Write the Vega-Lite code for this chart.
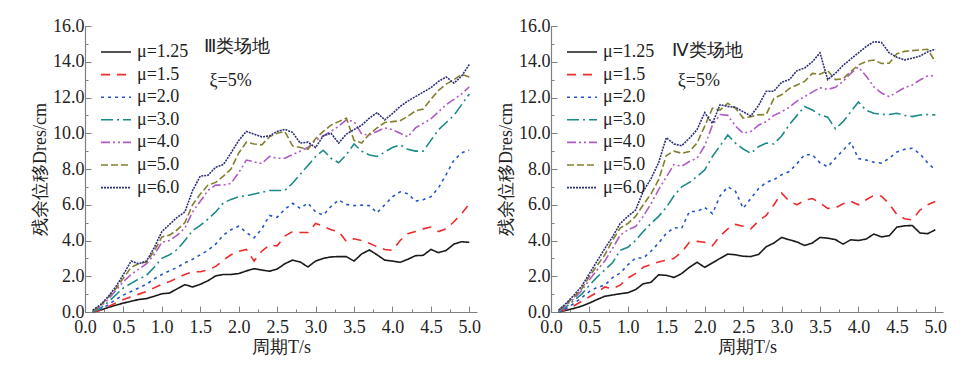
{
"$schema": "https://vega.github.io/schema/vega-lite/v6.json",
"padding": {"left": 31, "top": 17, "right": 5, "bottom": 5},
"config": {
  "view": {"stroke": null},
  "font": "Liberation Serif",
  "concat": {"spacing": 16},
  "axis": {"grid": false, "domainColor": "#808080", "domainWidth": 1.2, "tickColor": "#808080", "tickWidth": 1, "labelColor": "#222222", "titleColor": "#222222", "labelFont": "Liberation Serif", "labelFontSize": 18, "titleFont": "Liberation Serif", "titleFontSize": 18, "titleFontWeight": "normal", "labelOverlap": false, "labelFlush": false},
  "legend": {"orient": "none", "legendX": 15, "legendY": 15, "padding": 0, "title": null, "symbolType": "stroke", "symbolSize": 900, "labelFont": "Liberation Serif", "labelFontSize": 18, "labelColor": "#222222", "clipHeight": 22, "rowPadding": 0.6, "labelOffset": 5, "symbolOpacity": 1}
},
"datasets": {
"III": [
{"m":"1.25","T":0.1,"D":0},{"m":"1.25","T":0.2,"D":0.1},{"m":"1.25","T":0.3,"D":0.25},{"m":"1.25","T":0.4,"D":0.38},{"m":"1.25","T":0.5,"D":0.5},{"m":"1.25","T":0.6,"D":0.6},{"m":"1.25","T":0.7,"D":0.7},{"m":"1.25","T":0.8,"D":0.75},{"m":"1.25","T":0.9,"D":0.88},{"m":"1.25","T":1.0,"D":1.02},
{"m":"1.25","T":1.1,"D":1.06},{"m":"1.25","T":1.2,"D":1.3},{"m":"1.25","T":1.3,"D":1.53},{"m":"1.25","T":1.4,"D":1.4},{"m":"1.25","T":1.5,"D":1.55},{"m":"1.25","T":1.6,"D":1.75},{"m":"1.25","T":1.7,"D":2.02},{"m":"1.25","T":1.8,"D":2.1},{"m":"1.25","T":1.9,"D":2.1},{"m":"1.25","T":2.0,"D":2.15},
{"m":"1.25","T":2.1,"D":2.3},{"m":"1.25","T":2.2,"D":2.42},{"m":"1.25","T":2.3,"D":2.35},{"m":"1.25","T":2.4,"D":2.28},{"m":"1.25","T":2.5,"D":2.4},{"m":"1.25","T":2.6,"D":2.7},{"m":"1.25","T":2.7,"D":2.9},{"m":"1.25","T":2.8,"D":2.8},{"m":"1.25","T":2.9,"D":2.52},{"m":"1.25","T":3.0,"D":2.85},
{"m":"1.25","T":3.1,"D":3.0},{"m":"1.25","T":3.2,"D":3.08},{"m":"1.25","T":3.3,"D":3.1},{"m":"1.25","T":3.4,"D":3.1},{"m":"1.25","T":3.5,"D":2.85},{"m":"1.25","T":3.6,"D":3.25},{"m":"1.25","T":3.7,"D":3.47},{"m":"1.25","T":3.8,"D":3.2},{"m":"1.25","T":3.9,"D":2.9},{"m":"1.25","T":4.0,"D":2.85},
{"m":"1.25","T":4.1,"D":2.78},{"m":"1.25","T":4.2,"D":2.95},{"m":"1.25","T":4.3,"D":3.15},{"m":"1.25","T":4.4,"D":3.17},{"m":"1.25","T":4.5,"D":3.5},{"m":"1.25","T":4.6,"D":3.32},{"m":"1.25","T":4.7,"D":3.45},{"m":"1.25","T":4.8,"D":3.8},{"m":"1.25","T":4.9,"D":3.93},{"m":"1.25","T":5.0,"D":3.9},
{"m":"1.5","T":0.1,"D":0},{"m":"1.5","T":0.2,"D":0.1},{"m":"1.5","T":0.3,"D":0.3},{"m":"1.5","T":0.4,"D":0.5},{"m":"1.5","T":0.5,"D":0.7},{"m":"1.5","T":0.6,"D":0.85},{"m":"1.5","T":0.7,"D":1.0},{"m":"1.5","T":0.8,"D":1.15},{"m":"1.5","T":0.9,"D":1.35},{"m":"1.5","T":1.0,"D":1.55},
{"m":"1.5","T":1.1,"D":1.7},{"m":"1.5","T":1.2,"D":1.9},{"m":"1.5","T":1.3,"D":2.1},{"m":"1.5","T":1.4,"D":2.25},{"m":"1.5","T":1.5,"D":2.25},{"m":"1.5","T":1.6,"D":2.35},{"m":"1.5","T":1.7,"D":2.55},{"m":"1.5","T":1.8,"D":2.9},{"m":"1.5","T":1.9,"D":3.2},{"m":"1.5","T":2.0,"D":3.4},
{"m":"1.5","T":2.1,"D":3.5},{"m":"1.5","T":2.2,"D":2.85},{"m":"1.5","T":2.3,"D":3.4},{"m":"1.5","T":2.4,"D":3.75},{"m":"1.5","T":2.5,"D":3.7},{"m":"1.5","T":2.6,"D":4.25},{"m":"1.5","T":2.7,"D":4.5},{"m":"1.5","T":2.8,"D":4.45},{"m":"1.5","T":2.9,"D":4.45},{"m":"1.5","T":3.0,"D":4.95},
{"m":"1.5","T":3.1,"D":4.8},{"m":"1.5","T":3.2,"D":4.6},{"m":"1.5","T":3.3,"D":4.5},{"m":"1.5","T":3.4,"D":3.95},{"m":"1.5","T":3.5,"D":4.1},{"m":"1.5","T":3.6,"D":4.0},{"m":"1.5","T":3.7,"D":3.84},{"m":"1.5","T":3.8,"D":3.65},{"m":"1.5","T":3.9,"D":3.5},{"m":"1.5","T":4.0,"D":3.45},
{"m":"1.5","T":4.1,"D":4.0},{"m":"1.5","T":4.2,"D":4.38},{"m":"1.5","T":4.3,"D":4.5},{"m":"1.5","T":4.4,"D":4.65},{"m":"1.5","T":4.5,"D":4.75},{"m":"1.5","T":4.6,"D":4.5},{"m":"1.5","T":4.7,"D":4.65},{"m":"1.5","T":4.8,"D":5.05},{"m":"1.5","T":4.9,"D":5.5},{"m":"1.5","T":5.0,"D":6.05},
{"m":"2.0","T":0.1,"D":0},{"m":"2.0","T":0.2,"D":0.15},{"m":"2.0","T":0.3,"D":0.4},{"m":"2.0","T":0.4,"D":0.7},{"m":"2.0","T":0.5,"D":0.95},{"m":"2.0","T":0.6,"D":1.15},{"m":"2.0","T":0.7,"D":1.35},{"m":"2.0","T":0.8,"D":1.55},{"m":"2.0","T":0.9,"D":1.85},{"m":"2.0","T":1.0,"D":2.1},
{"m":"2.0","T":1.1,"D":2.3},{"m":"2.0","T":1.2,"D":2.5},{"m":"2.0","T":1.3,"D":2.75},{"m":"2.0","T":1.4,"D":2.95},{"m":"2.0","T":1.5,"D":3.2},{"m":"2.0","T":1.6,"D":3.45},{"m":"2.0","T":1.7,"D":3.8},{"m":"2.0","T":1.8,"D":4.3},{"m":"2.0","T":1.9,"D":4.6},{"m":"2.0","T":2.0,"D":4.8},
{"m":"2.0","T":2.1,"D":4.45},{"m":"2.0","T":2.2,"D":4.15},{"m":"2.0","T":2.3,"D":4.65},{"m":"2.0","T":2.4,"D":5.4},{"m":"2.0","T":2.5,"D":5.3},{"m":"2.0","T":2.6,"D":5.75},{"m":"2.0","T":2.7,"D":6.08},{"m":"2.0","T":2.8,"D":5.8},{"m":"2.0","T":2.9,"D":6.1},{"m":"2.0","T":3.0,"D":5.6},
{"m":"2.0","T":3.1,"D":5.42},{"m":"2.0","T":3.2,"D":5.9},{"m":"2.0","T":3.3,"D":6.27},{"m":"2.0","T":3.4,"D":6.02},{"m":"2.0","T":3.5,"D":5.95},{"m":"2.0","T":3.6,"D":5.98},{"m":"2.0","T":3.7,"D":5.95},{"m":"2.0","T":3.8,"D":5.55},{"m":"2.0","T":3.9,"D":6.0},{"m":"2.0","T":4.0,"D":6.45},
{"m":"2.0","T":4.1,"D":6.72},{"m":"2.0","T":4.2,"D":6.62},{"m":"2.0","T":4.3,"D":6.2},{"m":"2.0","T":4.4,"D":6.28},{"m":"2.0","T":4.5,"D":6.45},{"m":"2.0","T":4.6,"D":6.95},{"m":"2.0","T":4.7,"D":7.7},{"m":"2.0","T":4.8,"D":8.5},{"m":"2.0","T":4.9,"D":8.9},{"m":"2.0","T":5.0,"D":9.05},
{"m":"3.0","T":0.1,"D":0},{"m":"3.0","T":0.2,"D":0.2},{"m":"3.0","T":0.3,"D":0.55},{"m":"3.0","T":0.4,"D":0.95},{"m":"3.0","T":0.5,"D":1.35},{"m":"3.0","T":0.6,"D":1.6},{"m":"3.0","T":0.7,"D":1.85},{"m":"3.0","T":0.8,"D":2.05},{"m":"3.0","T":0.9,"D":2.5},{"m":"3.0","T":1.0,"D":3.0},
{"m":"3.0","T":1.1,"D":3.2},{"m":"3.0","T":1.2,"D":3.5},{"m":"3.0","T":1.3,"D":4.0},{"m":"3.0","T":1.4,"D":4.55},{"m":"3.0","T":1.5,"D":4.85},{"m":"3.0","T":1.6,"D":5.2},{"m":"3.0","T":1.7,"D":5.6},{"m":"3.0","T":1.8,"D":6.1},{"m":"3.0","T":1.9,"D":6.3},{"m":"3.0","T":2.0,"D":6.45},
{"m":"3.0","T":2.1,"D":6.5},{"m":"3.0","T":2.2,"D":6.6},{"m":"3.0","T":2.3,"D":6.7},{"m":"3.0","T":2.4,"D":6.8},{"m":"3.0","T":2.5,"D":6.8},{"m":"3.0","T":2.6,"D":6.8},{"m":"3.0","T":2.7,"D":7.2},{"m":"3.0","T":2.8,"D":7.7},{"m":"3.0","T":2.9,"D":8.2},{"m":"3.0","T":3.0,"D":8.7},
{"m":"3.0","T":3.1,"D":9.05},{"m":"3.0","T":3.2,"D":8.6},{"m":"3.0","T":3.3,"D":8.35},{"m":"3.0","T":3.4,"D":8.8},{"m":"3.0","T":3.5,"D":9.4},{"m":"3.0","T":3.6,"D":9.0},{"m":"3.0","T":3.7,"D":8.78},{"m":"3.0","T":3.8,"D":8.7},{"m":"3.0","T":3.9,"D":8.95},{"m":"3.0","T":4.0,"D":9.2},
{"m":"3.0","T":4.1,"D":9.35},{"m":"3.0","T":4.2,"D":9.1},{"m":"3.0","T":4.3,"D":9.0},{"m":"3.0","T":4.4,"D":9.0},{"m":"3.0","T":4.5,"D":9.6},{"m":"3.0","T":4.6,"D":10.2},{"m":"3.0","T":4.7,"D":10.6},{"m":"3.0","T":4.8,"D":11.0},{"m":"3.0","T":4.9,"D":11.6},{"m":"3.0","T":5.0,"D":12.2},
{"m":"4.0","T":0.1,"D":0.05},{"m":"4.0","T":0.2,"D":0.3},{"m":"4.0","T":0.3,"D":0.7},{"m":"4.0","T":0.4,"D":1.2},{"m":"4.0","T":0.5,"D":1.7},{"m":"4.0","T":0.6,"D":2.1},{"m":"4.0","T":0.7,"D":2.4},{"m":"4.0","T":0.8,"D":2.7},{"m":"4.0","T":0.9,"D":3.2},{"m":"4.0","T":1.0,"D":3.9},
{"m":"4.0","T":1.1,"D":4.0},{"m":"4.0","T":1.2,"D":4.3},{"m":"4.0","T":1.3,"D":4.7},{"m":"4.0","T":1.4,"D":5.6},{"m":"4.0","T":1.5,"D":6.2},{"m":"4.0","T":1.6,"D":6.8},{"m":"4.0","T":1.7,"D":7.1},{"m":"4.0","T":1.8,"D":7.1},{"m":"4.0","T":1.9,"D":7.2},{"m":"4.0","T":2.0,"D":7.8},
{"m":"4.0","T":2.1,"D":8.5},{"m":"4.0","T":2.2,"D":8.4},{"m":"4.0","T":2.3,"D":8.3},{"m":"4.0","T":2.4,"D":8.7},{"m":"4.0","T":2.5,"D":8.6},{"m":"4.0","T":2.6,"D":8.6},{"m":"4.0","T":2.7,"D":8.8},{"m":"4.0","T":2.8,"D":9.0},{"m":"4.0","T":2.9,"D":9.2},{"m":"4.0","T":3.0,"D":9.6},
{"m":"4.0","T":3.1,"D":9.85},{"m":"4.0","T":3.2,"D":10.1},{"m":"4.0","T":3.3,"D":10.4},{"m":"4.0","T":3.4,"D":10.75},{"m":"4.0","T":3.5,"D":10.66},{"m":"4.0","T":3.6,"D":9.95},{"m":"4.0","T":3.7,"D":9.9},{"m":"4.0","T":3.8,"D":10.1},{"m":"4.0","T":3.9,"D":10.3},{"m":"4.0","T":4.0,"D":10.2},
{"m":"4.0","T":4.1,"D":10.0},{"m":"4.0","T":4.2,"D":9.8},{"m":"4.0","T":4.3,"D":10.3},{"m":"4.0","T":4.4,"D":10.55},{"m":"4.0","T":4.5,"D":10.8},{"m":"4.0","T":4.6,"D":11.2},{"m":"4.0","T":4.7,"D":11.6},{"m":"4.0","T":4.8,"D":11.9},{"m":"4.0","T":4.9,"D":12.2},{"m":"4.0","T":5.0,"D":12.6},
{"m":"5.0","T":0.1,"D":0.05},{"m":"5.0","T":0.2,"D":0.35},{"m":"5.0","T":0.3,"D":0.8},{"m":"5.0","T":0.4,"D":1.3},{"m":"5.0","T":0.5,"D":1.9},{"m":"5.0","T":0.6,"D":2.5},{"m":"5.0","T":0.7,"D":2.7},{"m":"5.0","T":0.8,"D":2.8},{"m":"5.0","T":0.9,"D":3.4},{"m":"5.0","T":1.0,"D":4.2},
{"m":"5.0","T":1.1,"D":4.3},{"m":"5.0","T":1.2,"D":4.6},{"m":"5.0","T":1.3,"D":5.0},{"m":"5.0","T":1.4,"D":6.0},{"m":"5.0","T":1.5,"D":6.6},{"m":"5.0","T":1.6,"D":7.1},{"m":"5.0","T":1.7,"D":7.25},{"m":"5.0","T":1.8,"D":7.6},{"m":"5.0","T":1.9,"D":8.0},{"m":"5.0","T":2.0,"D":8.9},
{"m":"5.0","T":2.1,"D":9.5},{"m":"5.0","T":2.2,"D":9.4},{"m":"5.0","T":2.3,"D":9.35},{"m":"5.0","T":2.4,"D":9.8},{"m":"5.0","T":2.5,"D":10.0},{"m":"5.0","T":2.6,"D":10.1},{"m":"5.0","T":2.7,"D":9.3},{"m":"5.0","T":2.8,"D":9.2},{"m":"5.0","T":2.9,"D":9.1},{"m":"5.0","T":3.0,"D":9.7},
{"m":"5.0","T":3.1,"D":10.1},{"m":"5.0","T":3.2,"D":10.45},{"m":"5.0","T":3.3,"D":10.65},{"m":"5.0","T":3.4,"D":10.85},{"m":"5.0","T":3.5,"D":9.6},{"m":"5.0","T":3.6,"D":9.45},{"m":"5.0","T":3.7,"D":9.95},{"m":"5.0","T":3.8,"D":10.3},{"m":"5.0","T":3.9,"D":10.6},{"m":"5.0","T":4.0,"D":10.65},
{"m":"5.0","T":4.1,"D":10.7},{"m":"5.0","T":4.2,"D":10.95},{"m":"5.0","T":4.3,"D":11.25},{"m":"5.0","T":4.4,"D":11.35},{"m":"5.0","T":4.5,"D":11.9},{"m":"5.0","T":4.6,"D":12.4},{"m":"5.0","T":4.7,"D":12.75},{"m":"5.0","T":4.8,"D":13.0},{"m":"5.0","T":4.9,"D":13.3},{"m":"5.0","T":5.0,"D":13.15},
{"m":"6.0","T":0.1,"D":0.1},{"m":"6.0","T":0.2,"D":0.4},{"m":"6.0","T":0.3,"D":0.85},{"m":"6.0","T":0.4,"D":1.4},{"m":"6.0","T":0.5,"D":2.1},{"m":"6.0","T":0.6,"D":2.85},{"m":"6.0","T":0.7,"D":2.7},{"m":"6.0","T":0.8,"D":2.85},{"m":"6.0","T":0.9,"D":3.6},{"m":"6.0","T":1.0,"D":4.5},
{"m":"6.0","T":1.1,"D":4.9},{"m":"6.0","T":1.2,"D":5.3},{"m":"6.0","T":1.3,"D":5.6},{"m":"6.0","T":1.4,"D":6.8},{"m":"6.0","T":1.5,"D":7.6},{"m":"6.0","T":1.6,"D":7.65},{"m":"6.0","T":1.7,"D":8.1},{"m":"6.0","T":1.8,"D":8.25},{"m":"6.0","T":1.9,"D":8.9},{"m":"6.0","T":2.0,"D":9.6},
{"m":"6.0","T":2.1,"D":10.1},{"m":"6.0","T":2.2,"D":9.95},{"m":"6.0","T":2.3,"D":9.8},{"m":"6.0","T":2.4,"D":9.85},{"m":"6.0","T":2.5,"D":10.1},{"m":"6.0","T":2.6,"D":10.22},{"m":"6.0","T":2.7,"D":10.05},{"m":"6.0","T":2.8,"D":9.45},{"m":"6.0","T":2.9,"D":9.5},{"m":"6.0","T":3.0,"D":9.2},
{"m":"6.0","T":3.1,"D":9.85},{"m":"6.0","T":3.2,"D":10.0},{"m":"6.0","T":3.3,"D":9.45},{"m":"6.0","T":3.4,"D":9.95},{"m":"6.0","T":3.5,"D":10.2},{"m":"6.0","T":3.6,"D":10.45},{"m":"6.0","T":3.7,"D":10.85},{"m":"6.0","T":3.8,"D":11.15},{"m":"6.0","T":3.9,"D":10.75},{"m":"6.0","T":4.0,"D":11.1},
{"m":"6.0","T":4.1,"D":11.5},{"m":"6.0","T":4.2,"D":11.8},{"m":"6.0","T":4.3,"D":12.05},{"m":"6.0","T":4.4,"D":12.3},{"m":"6.0","T":4.5,"D":12.55},{"m":"6.0","T":4.6,"D":12.9},{"m":"6.0","T":4.7,"D":13.15},{"m":"6.0","T":4.8,"D":12.8},{"m":"6.0","T":4.9,"D":13.2},{"m":"6.0","T":5.0,"D":13.85}
],
"IV": [
{"m":"1.25","T":0.1,"D":0},{"m":"1.25","T":0.2,"D":0.1},{"m":"1.25","T":0.3,"D":0.2},{"m":"1.25","T":0.4,"D":0.33},{"m":"1.25","T":0.5,"D":0.5},{"m":"1.25","T":0.6,"D":0.7},{"m":"1.25","T":0.7,"D":0.88},{"m":"1.25","T":0.8,"D":0.95},{"m":"1.25","T":0.9,"D":1.02},{"m":"1.25","T":1.0,"D":1.08},
{"m":"1.25","T":1.1,"D":1.25},{"m":"1.25","T":1.2,"D":1.58},{"m":"1.25","T":1.3,"D":1.66},{"m":"1.25","T":1.4,"D":2.08},{"m":"1.25","T":1.5,"D":2.05},{"m":"1.25","T":1.6,"D":1.93},{"m":"1.25","T":1.7,"D":2.15},{"m":"1.25","T":1.8,"D":2.5},{"m":"1.25","T":1.9,"D":2.78},{"m":"1.25","T":2.0,"D":2.5},
{"m":"1.25","T":2.1,"D":2.75},{"m":"1.25","T":2.2,"D":3.0},{"m":"1.25","T":2.3,"D":3.24},{"m":"1.25","T":2.4,"D":3.2},{"m":"1.25","T":2.5,"D":3.12},{"m":"1.25","T":2.6,"D":3.1},{"m":"1.25","T":2.7,"D":3.22},{"m":"1.25","T":2.8,"D":3.65},{"m":"1.25","T":2.9,"D":3.86},{"m":"1.25","T":3.0,"D":4.17},
{"m":"1.25","T":3.1,"D":4.04},{"m":"1.25","T":3.2,"D":3.92},{"m":"1.25","T":3.3,"D":3.72},{"m":"1.25","T":3.4,"D":3.86},{"m":"1.25","T":3.5,"D":4.17},{"m":"1.25","T":3.6,"D":4.13},{"m":"1.25","T":3.7,"D":4.05},{"m":"1.25","T":3.8,"D":3.8},{"m":"1.25","T":3.9,"D":4.04},{"m":"1.25","T":4.0,"D":4.0},
{"m":"1.25","T":4.1,"D":4.08},{"m":"1.25","T":4.2,"D":4.36},{"m":"1.25","T":4.3,"D":4.2},{"m":"1.25","T":4.4,"D":4.27},{"m":"1.25","T":4.5,"D":4.75},{"m":"1.25","T":4.6,"D":4.82},{"m":"1.25","T":4.7,"D":4.84},{"m":"1.25","T":4.8,"D":4.42},{"m":"1.25","T":4.9,"D":4.38},{"m":"1.25","T":5.0,"D":4.6},
{"m":"1.5","T":0.1,"D":0},{"m":"1.5","T":0.2,"D":0.15},{"m":"1.5","T":0.3,"D":0.35},{"m":"1.5","T":0.4,"D":0.6},{"m":"1.5","T":0.5,"D":0.85},{"m":"1.5","T":0.6,"D":1.1},{"m":"1.5","T":0.7,"D":1.4},{"m":"1.5","T":0.8,"D":1.3},{"m":"1.5","T":0.9,"D":1.5},{"m":"1.5","T":1.0,"D":1.9},
{"m":"1.5","T":1.1,"D":2.15},{"m":"1.5","T":1.2,"D":2.5},{"m":"1.5","T":1.3,"D":2.65},{"m":"1.5","T":1.4,"D":2.8},{"m":"1.5","T":1.5,"D":2.9},{"m":"1.5","T":1.6,"D":3.0},{"m":"1.5","T":1.7,"D":3.35},{"m":"1.5","T":1.8,"D":3.9},{"m":"1.5","T":1.9,"D":3.95},{"m":"1.5","T":2.0,"D":3.9},
{"m":"1.5","T":2.1,"D":3.7},{"m":"1.5","T":2.2,"D":4.25},{"m":"1.5","T":2.3,"D":4.65},{"m":"1.5","T":2.4,"D":4.9},{"m":"1.5","T":2.5,"D":4.8},{"m":"1.5","T":2.6,"D":4.65},{"m":"1.5","T":2.7,"D":5.1},{"m":"1.5","T":2.8,"D":5.4},{"m":"1.5","T":2.9,"D":6.0},{"m":"1.5","T":3.0,"D":6.65},
{"m":"1.5","T":3.1,"D":6.2},{"m":"1.5","T":3.2,"D":6.0},{"m":"1.5","T":3.3,"D":6.25},{"m":"1.5","T":3.4,"D":6.35},{"m":"1.5","T":3.5,"D":6.1},{"m":"1.5","T":3.6,"D":5.8},{"m":"1.5","T":3.7,"D":5.82},{"m":"1.5","T":3.8,"D":6.05},{"m":"1.5","T":3.9,"D":6.2},{"m":"1.5","T":4.0,"D":6.0},
{"m":"1.5","T":4.1,"D":6.28},{"m":"1.5","T":4.2,"D":6.52},{"m":"1.5","T":4.3,"D":6.48},{"m":"1.5","T":4.4,"D":6.05},{"m":"1.5","T":4.5,"D":5.45},{"m":"1.5","T":4.6,"D":5.22},{"m":"1.5","T":4.7,"D":5.15},{"m":"1.5","T":4.8,"D":5.7},{"m":"1.5","T":4.9,"D":6.0},{"m":"1.5","T":5.0,"D":6.18},
{"m":"2.0","T":0.1,"D":0},{"m":"2.0","T":0.2,"D":0.2},{"m":"2.0","T":0.3,"D":0.48},{"m":"2.0","T":0.4,"D":0.8},{"m":"2.0","T":0.5,"D":1.15},{"m":"2.0","T":0.6,"D":1.38},{"m":"2.0","T":0.7,"D":1.5},{"m":"2.0","T":0.8,"D":1.92},{"m":"2.0","T":0.9,"D":2.18},{"m":"2.0","T":1.0,"D":2.64},
{"m":"2.0","T":1.1,"D":3.02},{"m":"2.0","T":1.2,"D":3.02},{"m":"2.0","T":1.3,"D":3.4},{"m":"2.0","T":1.4,"D":3.86},{"m":"2.0","T":1.5,"D":4.4},{"m":"2.0","T":1.6,"D":4.72},{"m":"2.0","T":1.7,"D":4.68},{"m":"2.0","T":1.8,"D":5.62},{"m":"2.0","T":1.9,"D":5.62},{"m":"2.0","T":2.0,"D":5.85},
{"m":"2.0","T":2.1,"D":5.5},{"m":"2.0","T":2.2,"D":6.5},{"m":"2.0","T":2.3,"D":7.0},{"m":"2.0","T":2.4,"D":6.75},{"m":"2.0","T":2.5,"D":5.8},{"m":"2.0","T":2.6,"D":6.35},{"m":"2.0","T":2.7,"D":6.9},{"m":"2.0","T":2.8,"D":7.25},{"m":"2.0","T":2.9,"D":7.4},{"m":"2.0","T":3.0,"D":7.68},
{"m":"2.0","T":3.1,"D":7.86},{"m":"2.0","T":3.2,"D":8.3},{"m":"2.0","T":3.3,"D":8.8},{"m":"2.0","T":3.4,"D":8.8},{"m":"2.0","T":3.5,"D":8.35},{"m":"2.0","T":3.6,"D":8.12},{"m":"2.0","T":3.7,"D":8.6},{"m":"2.0","T":3.8,"D":9.05},{"m":"2.0","T":3.9,"D":9.5},{"m":"2.0","T":4.0,"D":8.58},
{"m":"2.0","T":4.1,"D":8.5},{"m":"2.0","T":4.2,"D":8.38},{"m":"2.0","T":4.3,"D":8.33},{"m":"2.0","T":4.4,"D":8.6},{"m":"2.0","T":4.5,"D":8.95},{"m":"2.0","T":4.6,"D":9.1},{"m":"2.0","T":4.7,"D":9.16},{"m":"2.0","T":4.8,"D":8.85},{"m":"2.0","T":4.9,"D":8.35},{"m":"2.0","T":5.0,"D":7.95},
{"m":"3.0","T":0.1,"D":0},{"m":"3.0","T":0.2,"D":0.3},{"m":"3.0","T":0.3,"D":0.65},{"m":"3.0","T":0.4,"D":1.0},{"m":"3.0","T":0.5,"D":1.5},{"m":"3.0","T":0.6,"D":1.95},{"m":"3.0","T":0.7,"D":2.35},{"m":"3.0","T":0.8,"D":2.75},{"m":"3.0","T":0.9,"D":3.45},{"m":"3.0","T":1.0,"D":3.62},
{"m":"3.0","T":1.1,"D":4.0},{"m":"3.0","T":1.2,"D":4.5},{"m":"3.0","T":1.3,"D":4.95},{"m":"3.0","T":1.4,"D":5.35},{"m":"3.0","T":1.5,"D":5.85},{"m":"3.0","T":1.6,"D":6.5},{"m":"3.0","T":1.7,"D":7.0},{"m":"3.0","T":1.8,"D":7.25},{"m":"3.0","T":1.9,"D":7.58},{"m":"3.0","T":2.0,"D":7.95},
{"m":"3.0","T":2.1,"D":8.7},{"m":"3.0","T":2.2,"D":9.3},{"m":"3.0","T":2.3,"D":9.9},{"m":"3.0","T":2.4,"D":9.45},{"m":"3.0","T":2.5,"D":9.12},{"m":"3.0","T":2.6,"D":8.88},{"m":"3.0","T":2.7,"D":9.25},{"m":"3.0","T":2.8,"D":9.45},{"m":"3.0","T":2.9,"D":9.4},{"m":"3.0","T":3.0,"D":9.85},
{"m":"3.0","T":3.1,"D":10.47},{"m":"3.0","T":3.2,"D":11.0},{"m":"3.0","T":3.3,"D":11.5},{"m":"3.0","T":3.4,"D":11.3},{"m":"3.0","T":3.5,"D":11.03},{"m":"3.0","T":3.6,"D":10.9},{"m":"3.0","T":3.7,"D":10.25},{"m":"3.0","T":3.8,"D":10.65},{"m":"3.0","T":3.9,"D":11.2},{"m":"3.0","T":4.0,"D":11.75},
{"m":"3.0","T":4.1,"D":11.28},{"m":"3.0","T":4.2,"D":11.12},{"m":"3.0","T":4.3,"D":11.06},{"m":"3.0","T":4.4,"D":11.05},{"m":"3.0","T":4.5,"D":11.12},{"m":"3.0","T":4.6,"D":11.0},{"m":"3.0","T":4.7,"D":10.93},{"m":"3.0","T":4.8,"D":11.02},{"m":"3.0","T":4.9,"D":11.05},{"m":"3.0","T":5.0,"D":11.03},
{"m":"4.0","T":0.1,"D":0.05},{"m":"4.0","T":0.2,"D":0.4},{"m":"4.0","T":0.3,"D":0.75},{"m":"4.0","T":0.4,"D":1.2},{"m":"4.0","T":0.5,"D":1.8},{"m":"4.0","T":0.6,"D":2.35},{"m":"4.0","T":0.7,"D":2.85},{"m":"4.0","T":0.8,"D":3.55},{"m":"4.0","T":0.9,"D":4.3},{"m":"4.0","T":1.0,"D":4.6},
{"m":"4.0","T":1.1,"D":4.78},{"m":"4.0","T":1.2,"D":5.35},{"m":"4.0","T":1.3,"D":6.05},{"m":"4.0","T":1.4,"D":6.85},{"m":"4.0","T":1.5,"D":7.55},{"m":"4.0","T":1.6,"D":8.25},{"m":"4.0","T":1.7,"D":8.15},{"m":"4.0","T":1.8,"D":8.42},{"m":"4.0","T":1.9,"D":8.6},{"m":"4.0","T":2.0,"D":9.3},
{"m":"4.0","T":2.1,"D":10.45},{"m":"4.0","T":2.2,"D":11.05},{"m":"4.0","T":2.3,"D":11.0},{"m":"4.0","T":2.4,"D":10.4},{"m":"4.0","T":2.5,"D":10.0},{"m":"4.0","T":2.6,"D":10.1},{"m":"4.0","T":2.7,"D":10.45},{"m":"4.0","T":2.8,"D":10.65},{"m":"4.0","T":2.9,"D":11.0},{"m":"4.0","T":3.0,"D":11.2},
{"m":"4.0","T":3.1,"D":11.45},{"m":"4.0","T":3.2,"D":11.8},{"m":"4.0","T":3.3,"D":12.05},{"m":"4.0","T":3.4,"D":12.3},{"m":"4.0","T":3.5,"D":12.55},{"m":"4.0","T":3.6,"D":12.45},{"m":"4.0","T":3.7,"D":12.57},{"m":"4.0","T":3.8,"D":12.9},{"m":"4.0","T":3.9,"D":13.35},{"m":"4.0","T":4.0,"D":13.7},
{"m":"4.0","T":4.1,"D":13.2},{"m":"4.0","T":4.2,"D":12.6},{"m":"4.0","T":4.3,"D":12.25},{"m":"4.0","T":4.4,"D":12.05},{"m":"4.0","T":4.5,"D":12.3},{"m":"4.0","T":4.6,"D":12.55},{"m":"4.0","T":4.7,"D":12.7},{"m":"4.0","T":4.8,"D":12.98},{"m":"4.0","T":4.9,"D":13.2},{"m":"4.0","T":5.0,"D":13.22},
{"m":"5.0","T":0.1,"D":0.1},{"m":"5.0","T":0.2,"D":0.45},{"m":"5.0","T":0.3,"D":0.85},{"m":"5.0","T":0.4,"D":1.3},{"m":"5.0","T":0.5,"D":2.0},{"m":"5.0","T":0.6,"D":2.6},{"m":"5.0","T":0.7,"D":3.2},{"m":"5.0","T":0.8,"D":4.0},{"m":"5.0","T":0.9,"D":4.7},{"m":"5.0","T":1.0,"D":4.95},
{"m":"5.0","T":1.1,"D":5.35},{"m":"5.0","T":1.2,"D":6.0},{"m":"5.0","T":1.3,"D":6.6},{"m":"5.0","T":1.4,"D":7.4},{"m":"5.0","T":1.5,"D":8.75},{"m":"5.0","T":1.6,"D":9.0},{"m":"5.0","T":1.7,"D":8.88},{"m":"5.0","T":1.8,"D":8.98},{"m":"5.0","T":1.9,"D":9.45},{"m":"5.0","T":2.0,"D":10.4},
{"m":"5.0","T":2.1,"D":11.4},{"m":"5.0","T":2.2,"D":11.3},{"m":"5.0","T":2.3,"D":11.68},{"m":"5.0","T":2.4,"D":11.4},{"m":"5.0","T":2.5,"D":10.85},{"m":"5.0","T":2.6,"D":10.93},{"m":"5.0","T":2.7,"D":11.03},{"m":"5.0","T":2.8,"D":11.05},{"m":"5.0","T":2.9,"D":11.95},{"m":"5.0","T":3.0,"D":12.15},
{"m":"5.0","T":3.1,"D":12.5},{"m":"5.0","T":3.2,"D":12.7},{"m":"5.0","T":3.3,"D":12.9},{"m":"5.0","T":3.4,"D":13.35},{"m":"5.0","T":3.5,"D":13.3},{"m":"5.0","T":3.6,"D":13.5},{"m":"5.0","T":3.7,"D":13.0},{"m":"5.0","T":3.8,"D":13.05},{"m":"5.0","T":3.9,"D":13.45},{"m":"5.0","T":4.0,"D":13.82},
{"m":"5.0","T":4.1,"D":14.02},{"m":"5.0","T":4.2,"D":14.1},{"m":"5.0","T":4.3,"D":13.9},{"m":"5.0","T":4.4,"D":13.92},{"m":"5.0","T":4.5,"D":14.45},{"m":"5.0","T":4.6,"D":14.58},{"m":"5.0","T":4.7,"D":14.62},{"m":"5.0","T":4.8,"D":14.66},{"m":"5.0","T":4.9,"D":14.7},{"m":"5.0","T":5.0,"D":14.0},
{"m":"6.0","T":0.1,"D":0.1},{"m":"6.0","T":0.2,"D":0.5},{"m":"6.0","T":0.3,"D":0.95},{"m":"6.0","T":0.4,"D":1.45},{"m":"6.0","T":0.5,"D":2.15},{"m":"6.0","T":0.6,"D":2.85},{"m":"6.0","T":0.7,"D":3.55},{"m":"6.0","T":0.8,"D":4.2},{"m":"6.0","T":0.9,"D":4.95},{"m":"6.0","T":1.0,"D":5.35},
{"m":"6.0","T":1.1,"D":5.7},{"m":"6.0","T":1.2,"D":6.75},{"m":"6.0","T":1.3,"D":7.45},{"m":"6.0","T":1.4,"D":8.35},{"m":"6.0","T":1.5,"D":9.75},{"m":"6.0","T":1.6,"D":9.4},{"m":"6.0","T":1.7,"D":9.3},{"m":"6.0","T":1.8,"D":9.72},{"m":"6.0","T":1.9,"D":10.2},{"m":"6.0","T":2.0,"D":11.15},
{"m":"6.0","T":2.1,"D":10.55},{"m":"6.0","T":2.2,"D":11.6},{"m":"6.0","T":2.3,"D":11.5},{"m":"6.0","T":2.4,"D":11.45},{"m":"6.0","T":2.5,"D":11.2},{"m":"6.0","T":2.6,"D":10.97},{"m":"6.0","T":2.7,"D":11.55},{"m":"6.0","T":2.8,"D":12.35},{"m":"6.0","T":2.9,"D":12.35},{"m":"6.0","T":3.0,"D":12.85},
{"m":"6.0","T":3.1,"D":13.0},{"m":"6.0","T":3.2,"D":13.5},{"m":"6.0","T":3.3,"D":13.65},{"m":"6.0","T":3.4,"D":14.0},{"m":"6.0","T":3.5,"D":14.5},{"m":"6.0","T":3.6,"D":13.0},{"m":"6.0","T":3.7,"D":13.35},{"m":"6.0","T":3.8,"D":13.8},{"m":"6.0","T":3.9,"D":14.15},{"m":"6.0","T":4.0,"D":14.5},
{"m":"6.0","T":4.1,"D":14.85},{"m":"6.0","T":4.2,"D":15.12},{"m":"6.0","T":4.3,"D":15.08},{"m":"6.0","T":4.4,"D":14.5},{"m":"6.0","T":4.5,"D":14.25},{"m":"6.0","T":4.6,"D":14.1},{"m":"6.0","T":4.7,"D":14.2},{"m":"6.0","T":4.8,"D":14.32},{"m":"6.0","T":4.9,"D":14.55},{"m":"6.0","T":5.0,"D":14.7}
]
},
"hconcat": [
{
 "width": 392, "height": 286,
 "resolve": {"axis": {"x": "independent", "y": "independent"}},
 "layer": [
  {"data": {"name": "III"}, "mark": {"type": "line", "strokeCap": "butt"},
   "encoding": {
    "x": {"field": "T", "type": "quantitative", "scale": {"domain": [0, 5.1], "nice": false, "zero": false}, "axis": {"orient": "bottom", "title": "周期T/s", "values": [0,0.5,1,1.5,2,2.5,3,3.5,4,4.5,5], "format": ".1f", "tickSize": -6, "labelPadding": 12, "titlePadding": 2}},
    "y": {"field": "D", "type": "quantitative", "scale": {"domain": [0, 16], "nice": false}, "axis": {"orient": "left", "title": "残余位移Dres/cm", "values": [0,2,4,6,8,10,12,14,16], "format": ".1f", "tickSize": -6, "labelPadding": 7, "titlePadding": 3}},
    "color": {"field": "m", "type": "nominal", "scale": {"domain": ["1.25","1.5","2.0","3.0","4.0","5.0","6.0"], "range": ["#1a1a1a","#ee2b2b","#2456c6","#1b8a88","#b05ac6","#848030","#2c2f7a"]}, "legend": {"labelExpr": "'μ=' + datum.label"}},
    "strokeDash": {"field": "m", "type": "nominal", "scale": {"domain": ["1.25","1.5","2.0","3.0","4.0","5.0","6.0"], "range": [[1,0],[9,7],[3,4],[12,4,2,4],[9,3,2,3,2,3],[7,3],[2,1]]}, "legend": {"labelExpr": "'μ=' + datum.label"}},
    "strokeWidth": {"field": "m", "type": "ordinal", "scale": {"domain": ["1.25","1.5","2.0","3.0","4.0","5.0","6.0"], "range": [1.6,1.6,3.2,1.6,1.6,3.2,3.4]}, "legend": {"labelExpr": "'μ=' + datum.label"}}
   }},
  {"data": {"values": [{"T": 1.55, "D": 14.8, "txt": "Ⅲ类场地"}, {"T": 1.62, "D": 12.9, "txt": "ξ=5%"}]},
   "mark": {"type": "text", "align": "left", "baseline": "middle", "fontSize": 18, "color": "#222222", "font": "Liberation Serif"},
   "encoding": {
    "x": {"field": "T", "type": "quantitative", "axis": {"orient": "bottom", "title": null, "values": [0,0.25,0.5,0.75,1,1.25,1.5,1.75,2,2.25,2.5,2.75,3,3.25,3.5,3.75,4,4.25,4.5,4.75,5], "labels": false, "domain": false, "tickSize": -3}},
    "y": {"field": "D", "type": "quantitative", "axis": {"orient": "left", "title": null, "values": [0,1,2,3,4,5,6,7,8,9,10,11,12,13,14,15,16], "labels": false, "domain": false, "tickSize": -3}},
    "text": {"field": "txt"}}}
 ]
},
{
 "width": 392, "height": 286,
 "resolve": {"axis": {"x": "independent", "y": "independent"}},
 "layer": [
  {"data": {"name": "IV"}, "mark": {"type": "line", "strokeCap": "butt"},
   "encoding": {
    "x": {"field": "T", "type": "quantitative", "scale": {"domain": [0, 5.1], "nice": false, "zero": false}, "axis": {"orient": "bottom", "title": "周期T/s", "values": [0,0.5,1,1.5,2,2.5,3,3.5,4,4.5,5], "format": ".1f", "tickSize": -6, "labelPadding": 12, "titlePadding": 2}},
    "y": {"field": "D", "type": "quantitative", "scale": {"domain": [0, 16], "nice": false}, "axis": {"orient": "left", "title": "残余位移Dres/cm", "values": [0,2,4,6,8,10,12,14,16], "format": ".1f", "tickSize": -6, "labelPadding": 7, "titlePadding": 3}},
    "color": {"field": "m", "type": "nominal", "scale": {"domain": ["1.25","1.5","2.0","3.0","4.0","5.0","6.0"], "range": ["#1a1a1a","#ee2b2b","#2456c6","#1b8a88","#b05ac6","#848030","#2c2f7a"]}, "legend": {"labelExpr": "'μ=' + datum.label"}},
    "strokeDash": {"field": "m", "type": "nominal", "scale": {"domain": ["1.25","1.5","2.0","3.0","4.0","5.0","6.0"], "range": [[1,0],[9,7],[3,4],[12,4,2,4],[9,3,2,3,2,3],[7,3],[2,1]]}, "legend": {"labelExpr": "'μ=' + datum.label"}},
    "strokeWidth": {"field": "m", "type": "ordinal", "scale": {"domain": ["1.25","1.5","2.0","3.0","4.0","5.0","6.0"], "range": [1.6,1.6,3.2,1.6,1.6,3.2,3.4]}, "legend": {"labelExpr": "'μ=' + datum.label"}}
   }},
  {"data": {"values": [{"T": 1.58, "D": 14.6, "txt": "Ⅳ类场地"}, {"T": 1.65, "D": 12.9, "txt": "ξ=5%"}]},
   "mark": {"type": "text", "align": "left", "baseline": "middle", "fontSize": 18, "color": "#222222", "font": "Liberation Serif"},
   "encoding": {
    "x": {"field": "T", "type": "quantitative", "axis": {"orient": "bottom", "title": null, "values": [0,0.25,0.5,0.75,1,1.25,1.5,1.75,2,2.25,2.5,2.75,3,3.25,3.5,3.75,4,4.25,4.5,4.75,5], "labels": false, "domain": false, "tickSize": -3}},
    "y": {"field": "D", "type": "quantitative", "axis": {"orient": "left", "title": null, "values": [0,1,2,3,4,5,6,7,8,9,10,11,12,13,14,15,16], "labels": false, "domain": false, "tickSize": -3}},
    "text": {"field": "txt"}}}
 ]
}
],
"resolve": {"scale": {"color": "independent", "strokeDash": "independent", "strokeWidth": "independent"}, "legend": {"color": "independent", "strokeDash": "independent", "strokeWidth": "independent"}}
}
